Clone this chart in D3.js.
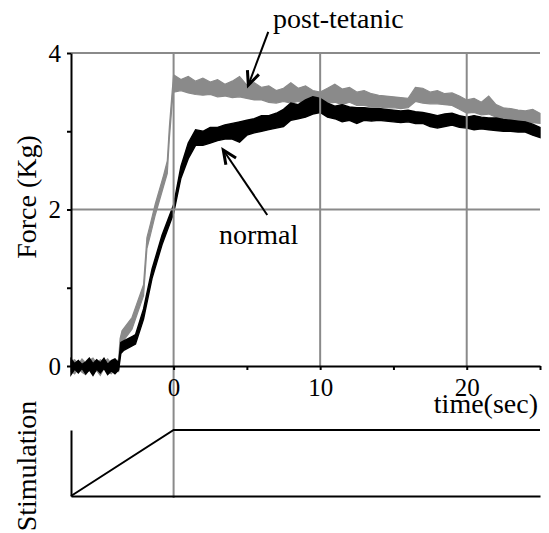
<!DOCTYPE html>
<html>
<head>
<meta charset="utf-8">
<script src="https://cdn.jsdelivr.net/npm/d3@7"></script>
<style>
  body { margin: 0; background: #fff; }
  text { font-family: "Liberation Serif", Tinos, "Times New Roman", serif; fill: #000; }
</style>
</head>
<body>
<div id="chart"></div>
<script>
// time samples (sec) and force envelope (Kg)
const normTime = [-7, -6.75, -6.5, -6.25, -6, -5.75, -5.5, -5.25, -5, -4.75, -4.5, -4.25, -4, -3.75,
  -3.6, -3.4, -2.8, -2.6, -2.05, -1.47, -0.79,
  0, 0.5, 1, 1.5, 2, 2.5, 3, 3.5, 4, 4.5, 5, 5.5, 6, 6.5, 7, 7.5, 8, 8.5, 9, 9.5,
  10, 10.5, 11, 11.5, 12, 12.5, 13, 13.5, 14, 14.5, 15, 15.5, 16, 16.5, 17, 17.5, 18, 18.5, 19, 19.5,
  20, 20.5, 21, 21.5, 22, 22.5, 23, 23.5, 24, 24.5, 25];
const normHigh = [0.09, 0.03, 0.07, 0.02, 0.05, 0.10, 0.03, 0.08, 0.04, 0.10, 0.02, 0.07, 0.09, 0.04,
  0.30, 0.32, 0.38, 0.40, 0.73, 1.24, 1.67,
  2.06, 2.55, 2.85, 3.02, 3.00, 3.05, 3.05, 3.08, 3.10, 3.12, 3.14, 3.16, 3.20, 3.20, 3.23, 3.28, 3.36, 3.34, 3.40, 3.44,
  3.42, 3.36, 3.32, 3.34, 3.31, 3.30, 3.30, 3.29, 3.29, 3.28, 3.27, 3.26, 3.27, 3.25, 3.24, 3.22, 3.20, 3.22, 3.23, 3.20,
  3.18, 3.20, 3.18, 3.17, 3.17, 3.15, 3.14, 3.13, 3.12, 3.09, 3.05];
const normLow = [-0.11, -0.04, -0.09, -0.03, -0.10, -0.05, -0.12, -0.04, -0.09, -0.03, -0.11, -0.06, -0.10, -0.05,
  0.16, 0.20, 0.26, 0.28, 0.60, 1.12, 1.55,
  1.95, 2.40, 2.65, 2.82, 2.82, 2.85, 2.88, 2.90, 2.90, 2.86, 2.95, 2.98, 3.00, 3.02, 3.04, 3.06, 3.14, 3.16, 3.18, 3.22,
  3.24, 3.18, 3.16, 3.12, 3.14, 3.10, 3.14, 3.13, 3.14, 3.13, 3.12, 3.11, 3.12, 3.10, 3.10, 3.06, 3.04, 3.06, 3.08, 3.05,
  3.04, 3.02, 3.03, 3.02, 3.01, 3.00, 3.00, 2.99, 2.99, 2.95, 2.92];

const postTime = [-7, -6.75, -6.5, -6.25, -6, -5.75, -5.5, -5.25, -5, -4.75, -4.5, -4.25, -4, -3.75,
  -3.65, -3.52, -2.84, -2.05, -1.82, -1.59, -1.25, -0.68, -0.43, -0.29, -0.1,
  0, 0.5, 1, 1.5, 2, 2.5, 3, 3.5, 4, 4.5, 5, 5.5, 6, 6.5, 7, 7.5, 8, 8.5, 9, 9.5,
  10, 10.5, 11, 11.5, 12, 12.5, 13, 13.5, 14, 14.5, 15, 15.5, 16, 16.5, 17, 17.5, 18, 18.5, 19, 19.5,
  20, 20.5, 21, 21.5, 22, 22.5, 23, 23.5, 24, 24.5, 25];
const postHigh = [0.06, 0.08, 0.02, 0.09, 0.04, 0.07, 0.10, 0.03, 0.08, 0.05, 0.09, 0.03, 0.06, 0.08,
  0.35, 0.45, 0.62, 1.04, 1.64, 1.81, 2.07, 2.44, 2.62, 3.05, 3.50,
  3.72, 3.66, 3.70, 3.64, 3.68, 3.63, 3.66, 3.60, 3.64, 3.70, 3.59, 3.62, 3.56, 3.58, 3.52, 3.55, 3.62, 3.55, 3.58, 3.52,
  3.50, 3.55, 3.60, 3.54, 3.56, 3.50, 3.52, 3.48, 3.46, 3.45, 3.44, 3.43, 3.42, 3.56, 3.55, 3.50, 3.52, 3.48, 3.49, 3.45,
  3.40, 3.42, 3.37, 3.45, 3.34, 3.30, 3.29, 3.27, 3.26, 3.28, 3.23];
const postLow = [-0.07, -0.10, -0.03, -0.08, -0.11, -0.04, -0.09, -0.06, -0.12, -0.03, -0.08, -0.10, -0.04, -0.07,
  0.15, 0.30, 0.47, 0.90, 1.50, 1.67, 1.93, 2.30, 2.46, 2.90, 3.35,
  3.50, 3.52, 3.49, 3.47, 3.46, 3.47, 3.44, 3.45, 3.43, 3.44, 3.42, 3.40, 3.40, 3.37, 3.36, 3.38, 3.36, 3.38, 3.35, 3.34,
  3.33, 3.36, 3.37, 3.34, 3.37, 3.33, 3.33, 3.31, 3.31, 3.30, 3.30, 3.29, 3.30, 3.38, 3.36, 3.35, 3.35, 3.34, 3.33, 3.28,
  3.23, 3.24, 3.21, 3.22, 3.18, 3.16, 3.14, 3.13, 3.12, 3.11, 3.10];

// stimulation ramp
const stimTime = [-7, 0, 25];
const stimLevel = [0, 1, 1];

const forceTicks = [0, 1, 2, 3, 4];
const forceLabels = [0, 2, 4];
const forceGrid = [2, 4];
const timeTicks = [-5, 0, 5, 10, 15, 20, 25];
const timeLabels = [0, 10, 20];
const timeGrid = [0, 10, 20];

function init() {
  const w = 549;
  const h = 533;
  const grey = "#8a8a8a";
  const serif = "Liberation Serif, Tinos, Times New Roman, serif";

  const svg = d3.select("#chart").append("svg")
    .attr("width", w)
    .attr("height", h);

  svg.append("rect").attr("width", w).attr("height", h).attr("fill", "#fff");

  const x = d3.scaleLinear().domain([-7, 25]).range([71, 540]);
  const y = d3.scaleLinear().domain([0, 4]).range([366, 53]);
  const ys = d3.scaleLinear().domain([0, 1]).range([496, 430]);

  // traces, drawn as noisy envelopes
  const band = d3.area()
    .x((d) => x(d.t))
    .y0((d) => y(d.lo))
    .y1((d) => y(d.hi));

  function series(t, hi, lo) {
    return t.map((v, i) => ({ t: v, hi: hi[i], lo: lo[i] }));
  }

  svg.append("path")
    .datum(series(postTime, postHigh, postLow))
    .attr("d", band)
    .attr("fill", grey)
    .attr("stroke", grey)
    .attr("stroke-width", 1.2);

  svg.append("path")
    .datum(series(normTime, normHigh, normLow))
    .attr("d", band)
    .attr("fill", "#000")
    .attr("stroke", "#000")
    .attr("stroke-width", 1.4);

  // grid lines
  svg.selectAll("line.hgrid")
    .data(forceGrid)
    .enter()
    .append("line")
    .attr("class", "hgrid")
    .attr("x1", x(-7)).attr("x2", x(25))
    .attr("y1", (d) => y(d)).attr("y2", (d) => y(d))
    .attr("stroke", grey).attr("stroke-width", 2);

  svg.selectAll("line.vgrid")
    .data(timeGrid)
    .enter()
    .append("line")
    .attr("class", "vgrid")
    .attr("x1", (d) => x(d)).attr("x2", (d) => x(d))
    .attr("y1", y(4))
    .attr("y2", (d) => (d === 0 ? ys(0) + 2 : y(0)))
    .attr("stroke", grey).attr("stroke-width", 2);

  // axes
  const yAxis = d3.axisLeft(y)
    .tickValues(forceTicks)
    .tickSize(4)
    .tickSizeOuter(0)
    .tickPadding(6)
    .tickFormat((d) => (forceLabels.includes(d) ? d : ""));

  const xAxis = d3.axisBottom(x)
    .tickValues(timeTicks)
    .tickSize(4)
    .tickSizeOuter(0)
    .tickPadding(8)
    .tickFormat((d) => (timeLabels.includes(d) ? d : ""));

  const gy = svg.append("g").attr("transform", "translate(" + x(-7) + ",0)").call(yAxis);
  const gx = svg.append("g").attr("transform", "translate(0," + y(0) + ")").call(xAxis);

  [gx, gy].forEach((g) => {
    g.attr("font-family", serif);
    g.select(".domain").attr("stroke", "#000").attr("stroke-width", 2);
    g.selectAll(".tick line").attr("stroke", "#000").attr("stroke-width", 2);
    g.selectAll(".tick text")
      .attr("font-size", "25px")
      .attr("fill", "#000");
  });

  // stimulation panel
  const gsx = svg.append("g").attr("transform", "translate(0," + ys(0) + ")")
    .call(d3.axisBottom(x).tickValues([]).tickSizeOuter(0));
  const gsy = svg.append("g").attr("transform", "translate(" + x(-7) + ",0)")
    .call(d3.axisLeft(ys).tickValues([]).tickSizeOuter(0));
  [gsx, gsy].forEach((g) => {
    g.select(".domain").attr("stroke", "#000").attr("stroke-width", 2);
  });

  const stimLine = d3.line()
    .x((d) => x(d.t))
    .y((d) => ys(d.v));

  svg.append("path")
    .datum(stimTime.map((t, i) => ({ t: t, v: stimLevel[i] })))
    .attr("d", stimLine)
    .attr("fill", "none")
    .attr("stroke", "#000")
    .attr("stroke-width", 2);

  // axis titles
  svg.append("text")
    .attr("transform", "translate(36," + 197 + ") rotate(-90)")
    .attr("text-anchor", "middle")
    .attr("font-size", "28px")
    .text("Force (Kg)");

  svg.append("text")
    .attr("transform", "translate(36," + 466 + ") rotate(-90)")
    .attr("text-anchor", "middle")
    .attr("font-size", "28px")
    .text("Stimulation");

  svg.append("text")
    .attr("x", 538)
    .attr("y", 413)
    .attr("text-anchor", "end")
    .attr("font-size", "28px")
    .text("time(sec)");

  // annotations
  const notes = [
    { label: "post-tetanic", tx: 273, ty: 28, from: [6.46, 4.27], to: [5.1, 3.59] },
    { label: "normal", tx: 219, ty: 244, from: [6.39, 1.93], to: [3.39, 2.76] }
  ];

  notes.forEach((n) => {
    svg.append("text")
      .attr("x", n.tx)
      .attr("y", n.ty)
      .attr("font-size", "28px")
      .text(n.label);

    const x1 = x(n.from[0]), y1 = y(n.from[1]);
    const x2 = x(n.to[0]), y2 = y(n.to[1]);
    svg.append("line")
      .attr("x1", x1).attr("y1", y1)
      .attr("x2", x2).attr("y2", y2)
      .attr("stroke", "#000")
      .attr("stroke-width", 2);

    const ang = Math.atan2(y1 - y2, x1 - x2);
    const len = 15;
    const spread = 0.42;
    const p = d3.path();
    p.moveTo(x2 + len * Math.cos(ang - spread), y2 + len * Math.sin(ang - spread));
    p.lineTo(x2, y2);
    p.lineTo(x2 + len * Math.cos(ang + spread), y2 + len * Math.sin(ang + spread));
    svg.append("path")
      .attr("d", p.toString())
      .attr("fill", "none")
      .attr("stroke", "#000")
      .attr("stroke-width", 3)
      .attr("stroke-linejoin", "miter");
  });
}
window.addEventListener("load", init);
</script>
</body>
</html>
